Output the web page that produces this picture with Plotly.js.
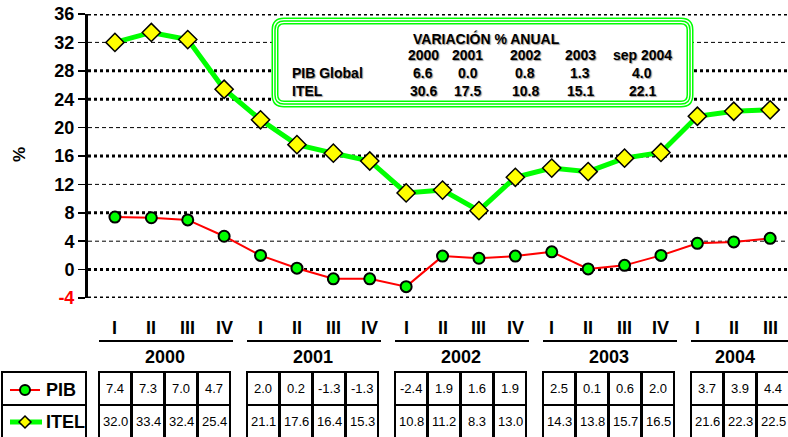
<!DOCTYPE html>
<html>
<head>
<meta charset="utf-8">
<script src="https://cdn.plot.ly/plotly-3.0.1.min.js"></script>
<style>
  body { margin: 0; background: #fff; }
  #plot { width: 788px; height: 437px; }
</style>
</head>
<body>
<div id="plot"></div>
<script>
// quarterly series
let quarters = ["I", "II", "III", "IV", "I", "II", "III", "IV", "I", "II", "III", "IV",
                "I", "II", "III", "IV", "I", "II", "III"];
let years = ["2000", "2001", "2002", "2003", "2004"];
let quartersPerYear = [4, 4, 4, 4, 3];
let pib = [7.4, 7.3, 7.0, 4.7, 2.0, 0.2, -1.3, -1.3, -2.4, 1.9, 1.6, 1.9, 2.5, 0.1, 0.6, 2.0, 3.7, 3.9, 4.4];
let itel = [32.0, 33.4, 32.4, 25.4, 21.1, 17.6, 16.4, 15.3, 10.8, 11.2, 8.3, 13.0, 14.3, 13.8, 15.7, 16.5, 21.6, 22.3, 22.5];

// annual table in the box
let annualYears = ["2000", "2001", "2002", "2003", "sep 2004"];
let annualPib = [6.6, 0.0, 0.8, 1.3, 4.0];
let annualItel = [30.6, 17.5, 10.8, 15.1, 22.1];

let yTicks = [-4, 0, 4, 8, 12, 16, 20, 24, 28, 32, 36];

// pixel -> paper helpers (plot area 88..788 x 14..298)
let px = p => (p - 88) / 700;
let py = p => (298 - p) / 284;

let font = "Liberation Sans, Arial, sans-serif";
let idx = quarters.map((q, i) => i);

let tracePib = {
  x: idx, y: pib, type: "scatter", mode: "lines+markers", name: "PIB",
  line: {color: "#ff0000", width: 2},
  marker: {symbol: "circle", size: 11, color: "#00ff00", line: {color: "#000", width: 2}},
  cliponaxis: false
};
let traceItel = {
  x: idx, y: itel, type: "scatter", mode: "lines+markers", name: "ITEL",
  line: {color: "#00ff00", width: 5},
  marker: {symbol: "diamond", size: 14, color: "#ffff00", line: {color: "#000", width: 1.5}},
  cliponaxis: false
};

let shapes = [];
let annotations = [];

function label(text, x, y, f, anchor, xref) {
  annotations.push({text: text, xref: xref || "paper", yref: "paper",
    x: xref ? x : px(x), y: py(y), xanchor: anchor || "center", yanchor: "middle",
    showarrow: false, font: f});
}

// gridlines: thick dotted and thin dashed
[-4, 0, 8, 16, 24, 28, 36].forEach(v => shapes.push({
  type: "line", xref: "paper", yref: "y", x0: 0, x1: 1, y0: v, y1: v, layer: "below",
  line: {color: "#000", width: 3, dash: "dot"}
}));
[4, 12, 20, 32].forEach(v => shapes.push({
  type: "line", xref: "paper", yref: "y", x0: 0, x1: 1, y0: v, y1: v, layer: "below",
  line: {color: "#000", width: 1, dash: "4px,3px"}
}));

// rounded box with triple green border
function roundRect(x0, y0, x1, y1, r) {
  return "M" + px(x0 + r) + "," + py(y0) +
    " L" + px(x1 - r) + "," + py(y0) +
    " Q" + px(x1) + "," + py(y0) + " " + px(x1) + "," + py(y0 + r) +
    " L" + px(x1) + "," + py(y1 - r) +
    " Q" + px(x1) + "," + py(y1) + " " + px(x1 - r) + "," + py(y1) +
    " L" + px(x0 + r) + "," + py(y1) +
    " Q" + px(x0) + "," + py(y1) + " " + px(x0) + "," + py(y1 - r) +
    " L" + px(x0) + "," + py(y0 + r) +
    " Q" + px(x0) + "," + py(y0) + " " + px(x0 + r) + "," + py(y0) + " Z";
}
let boxPath = roundRect(275, 21, 690, 104, 9);
shapes.push({type: "path", xref: "paper", yref: "paper", path: boxPath, fillcolor: "#fff",
  line: {color: "#00ff00", width: 7}, layer: "above"});
shapes.push({type: "path", xref: "paper", yref: "paper", path: boxPath,
  line: {color: "#fff", width: 4}, layer: "above"});
shapes.push({type: "path", xref: "paper", yref: "paper", path: boxPath,
  line: {color: "#00ff00", width: 1.5}, layer: "above"});

let boxFont = {family: font, size: 14, color: "#000", weight: "bold", shadow: "1px 1px 1px #999"};
label("VARIACIÓN % ANUAL", 487, 38, boxFont);
let colX = [423, 468, 525, 580, 642];
annualYears.forEach((t, i) => label(t, colX[i], 55, boxFont));
annualPib.forEach((v, i) => label(v.toFixed(1), colX[i], 73, boxFont));
annualItel.forEach((v, i) => label(v.toFixed(1), colX[i], 91, boxFont));
label("PIB Global", 290, 73, boxFont, "left");
label("ITEL", 290, 91, boxFont, "left");

// y axis title
annotations.push({text: "%", xref: "paper", yref: "paper", x: px(19), y: py(155),
  xanchor: "center", yanchor: "middle",
  textangle: -90, showarrow: false, font: {family: font, size: 17, weight: "bold", color: "#000"}});

// quarter labels under the plot
let boldFont = {family: font, size: 18, weight: "bold", color: "#000"};
quarters.forEach((q, i) => label(q, i, 328, boldFont, "center", "x"));

// year groups: underline, year label, table cells
let cellW = 33;
let start = 0;
years.forEach((yr, g) => {
  let n = quartersPerYear[g];
  let gx = 99 + 148 * g;
  let gEnd = Math.min(gx + 134, 788);
  shapes.push({type: "line", xref: "paper", yref: "paper", x0: px(gx), x1: px(gEnd),
    y0: py(341), y1: py(341), line: {color: "#000", width: 2}});
  label(yr, gx + n * cellW / 2 - 6 * (4 - n), 357, boldFont);
  for (let k = 0; k < n; k++) {
    let x0 = gx + cellW * k;
    let x1 = x0 + cellW - 1;
    let i = start + k;
    [[372, 405, pib[i]], [405, 440, itel[i]]].forEach(r => {
      shapes.push({type: "rect", xref: "paper", yref: "paper", x0: px(x0), x1: px(x1),
        y0: py(r[0]), y1: py(r[1]), line: {color: "#000", width: 2}});
      label(r[2].toFixed(1), (x0 + x1) / 2, (r[0] + Math.min(r[1], 437)) / 2,
        {family: font, size: 13, color: "#000"});
    });
  }
  start += n;
});

// legend box
shapes.push({type: "rect", xref: "paper", yref: "paper", x0: px(2), x1: px(86), y0: py(372), y1: py(405),
  line: {color: "#000", width: 2}});
shapes.push({type: "rect", xref: "paper", yref: "paper", x0: px(2), x1: px(86), y0: py(405), y1: py(440),
  line: {color: "#000", width: 2}});
shapes.push({type: "line", xref: "paper", yref: "paper", x0: px(10), x1: px(40), y0: py(390), y1: py(390),
  line: {color: "#ff0000", width: 2}});
shapes.push({type: "circle", xref: "paper", yref: "paper", x0: px(20), x1: px(30), y0: py(395), y1: py(385),
  fillcolor: "#00ff00", line: {color: "#000", width: 2}});
shapes.push({type: "line", xref: "paper", yref: "paper", x0: px(10), x1: px(42), y0: py(422), y1: py(422),
  line: {color: "#00ff00", width: 5}});
shapes.push({type: "path", xref: "paper", yref: "paper",
  path: "M" + px(19) + "," + py(422) + " L" + px(25) + "," + py(416) + " L" + px(31) + "," + py(422) +
        " L" + px(25) + "," + py(428) + " Z",
  fillcolor: "#ffff00", line: {color: "#000", width: 1.5}});
label("PIB", 44, 390, boldFont, "left");
label("ITEL", 44, 422, boldFont, "left");

let layout = {
  width: 788, height: 437,
  margin: {l: 88, r: 0, t: 14, b: 139},
  paper_bgcolor: "#fff", plot_bgcolor: "#fff",
  showlegend: false,
  xaxis: {range: [-0.74, 18.49], showticklabels: false, showgrid: false, zeroline: false,
    showline: false, ticks: ""},
  yaxis: {range: [-4, 36], tickvals: yTicks,
    ticktext: yTicks.map(v => v < 0 ? '<span style="color:#ff0000">' + v + '</span>' : String(v)),
    tickfont: {family: font, size: 18, weight: "bold", color: "#000"},
    showgrid: false, zeroline: false, showline: true, linecolor: "#000", linewidth: 3,
    ticks: "outside", ticklen: 7, tickwidth: 1.5, tickcolor: "#000"},
  shapes: shapes,
  annotations: annotations
};

Plotly.newPlot("plot", [tracePib, traceItel], layout, {displayModeBar: false, staticPlot: true});
</script>
</body>
</html>
